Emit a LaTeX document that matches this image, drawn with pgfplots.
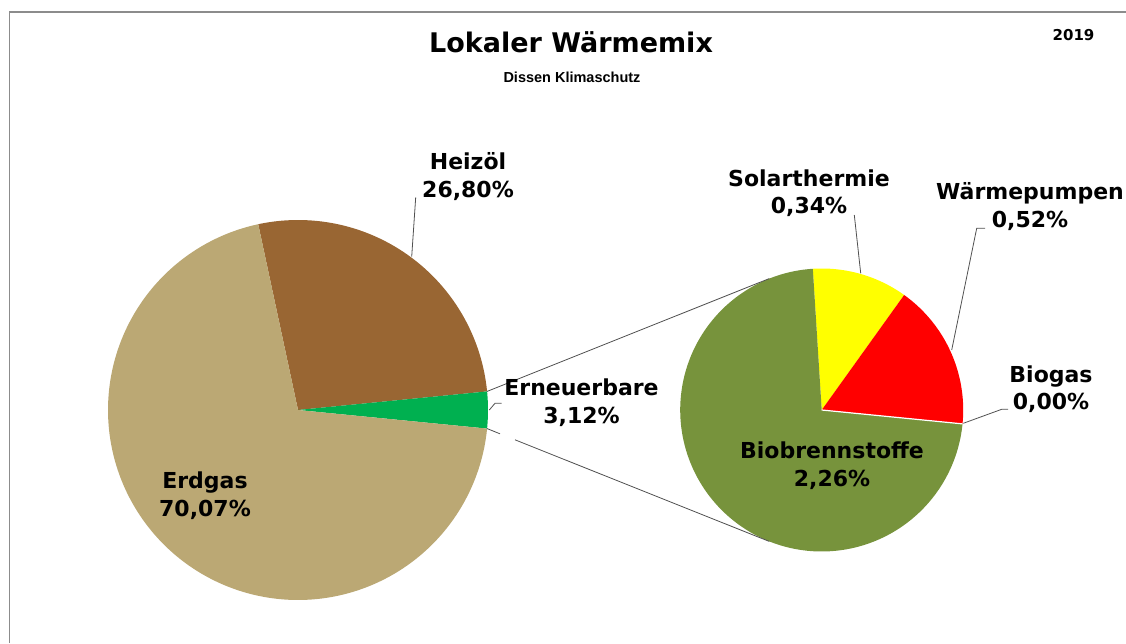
\documentclass[border=0pt]{standalone}
\usepackage{pgfplots}
\pgfplotsset{compat=1.18}
\usepackage{pgfplotstable}
\usepackage{fontspec}
\setmainfont{DejaVu Sans}
\newfontfamily\libsans{Liberation Sans}

\definecolor{erdgas}{RGB}{187,168,116}
\definecolor{heizoel}{RGB}{153,102,51}
\definecolor{erneu}{RGB}{0,176,80}
\definecolor{biobr}{RGB}{119,147,60}
\definecolor{solar}{RGB}{255,255,0}
\definecolor{wp}{RGB}{255,0,0}
\definecolor{leader}{RGB}{80,80,80}
\definecolor{framec}{RGB}{140,140,140}

\pgfplotstableread{
name value
Heizoel 26.80
Erneuerbare 3.12
Erdgas 70.07
}\maintab
\pgfplotstableread{
name value
Solarthermie 0.34
Waermepumpen 0.52
Biogas 0.00
Biobrennstoffe 2.26
}\subtab

\newcommand\lab{\fontsize{22}{27.8}\selectfont\bfseries}

\begin{document}%
\begin{tikzpicture}
\pgfplotstablegetelem{0}{value}\of\maintab \let\vHeiz\pgfplotsretval
\pgfplotstablegetelem{1}{value}\of\maintab \let\vErn\pgfplotsretval
\pgfplotstablegetelem{2}{value}\of\maintab \let\vErd\pgfplotsretval
\pgfplotstablegetelem{0}{value}\of\subtab \let\vSol\pgfplotsretval
\pgfplotstablegetelem{1}{value}\of\subtab \let\vWP\pgfplotsretval
\pgfplotstablegetelem{2}{value}\of\subtab \let\vBg\pgfplotsretval
\pgfplotstablegetelem{3}{value}\of\subtab \let\vBio\pgfplotsretval
% main pie angles (Erneuerbare centred on 0 deg)
\pgfmathsetmacro\aEa{-1.8*\vErn}
\pgfmathsetmacro\aEb{1.8*\vErn}
\pgfmathsetmacro\aHb{\aEb+3.6*\vHeiz}
\pgfmathsetmacro\aDb{\aEa+360}
% secondary pie angles
\pgfmathsetmacro\vSum{\vSol+\vWP+\vBg+\vBio}
\def\sStart{93.6}
\pgfmathsetmacro\sSol{\sStart-360*\vSol/\vSum}
\pgfmathsetmacro\sWP{\sSol-360*\vWP/\vSum}
\pgfmathsetmacro\sBg{\sWP-360*\vBg/\vSum}
\pgfmathsetmacro\sBio{\sBg-360*\vBio/\vSum}
\begin{axis}[hide axis, scale only axis, width=1126pt, height=643pt,
  xmin=0, xmax=1126, ymin=0, ymax=643, clip=false]
\coordinate (SW) at (axis cs:0,0);
\coordinate (NE) at (axis cs:1126,643);
% frame
\addplot[framec, line width=1.4pt] coordinates {(9.5,0) (9.5,631) (1126,631)};
% main pie
\addplot[fill=heizoel, draw=none, domain=\aEb:\aHb, samples=100, variable=\t]
  ({298+190*cos(\t)},{233+190*sin(\t)}) -- (axis cs:298,233) -- cycle;
\addplot[fill=erneu, draw=none, domain=\aEa:\aEb, samples=20, variable=\t]
  ({298+190*cos(\t)},{233+190*sin(\t)}) -- (axis cs:298,233) -- cycle;
\addplot[fill=erdgas, draw=none, domain=\aHb:\aDb, samples=200, variable=\t]
  ({298+190*cos(\t)},{233+190*sin(\t)}) -- (axis cs:298,233) -- cycle;
% secondary pie
\addplot[fill=solar, draw=none, domain=\sSol:\sStart, samples=50, variable=\t]
  ({821.7+141.5*cos(\t)},{233+141.5*sin(\t)}) -- (axis cs:821.7,233) -- cycle;
\addplot[fill=wp, draw=none, domain=\sWP:\sSol, samples=60, variable=\t]
  ({821.7+141.5*cos(\t)},{233+141.5*sin(\t)}) -- (axis cs:821.7,233) -- cycle;
\addplot[fill=biobr, draw=none, domain=\sBio:\sBg, samples=200, variable=\t]
  ({821.7+141.5*cos(\t)},{233+141.5*sin(\t)}) -- (axis cs:821.7,233) -- cycle;
% zero-width Biogas slice border
\addplot[white, line width=1.2pt, domain=0:141.5, samples=2]
  ({821.7+x*cos(\sBg)},{233+x*sin(\sBg)});
% connector lines
\addplot[leader, line width=0.8pt] coordinates {(487.1,251.6) (769.2,364.4)};
\addplot[leader, line width=0.8pt] coordinates {(487.1,214.4) (500,209.2)};
\addplot[leader, line width=0.8pt] coordinates {(515,203.2) (769.2,101.6)};
% leader lines
\addplot[leader, line width=0.8pt] coordinates {(411.7,386.3) (415.7,445.7)};
\addplot[leader, line width=0.8pt] coordinates {(489.3,233) (495,239.7) (501.7,239.7)};
\addplot[leader, line width=0.8pt] coordinates {(860.7,369.7) (854.3,428)};
\addplot[leader, line width=0.8pt] coordinates {(951.7,293) (976.7,414.7) (985,414.7)};
\addplot[leader, line width=0.8pt] coordinates {(963.3,219.7) (1001.7,233.7) (1008,233.7)};
% titles
\node[font=\fontsize{27}{32}\selectfont\bfseries] at (axis cs:571,600.3) {Lokaler Wärmemix};
\node[font=\libsans\fontsize{14.5}{17}\selectfont\bfseries] at (axis cs:572,565.3) {Dissen Klimaschutz};
\node[font=\fontsize{15}{18}\selectfont\bfseries] at (axis cs:1073.5,608) {2019};
% labels
\node[font=\lab, align=center] at (axis cs:468,466.3) {Heizöl\\26,80\%};
\node[font=\lab, align=center] at (axis cs:581.5,240.5) {Erneuerbare\\3,12\%};
\node[font=\lab, align=center] at (axis cs:205,147.5) {Erdgas\\70,07\%};
\node[font=\lab, align=center] at (axis cs:809,449.7) {Solarthermie\\0,34\%};
\node[font=\lab, align=center] at (axis cs:1030,436.3) {Wärmepumpen\\0,52\%};
\node[font=\lab, align=center] at (axis cs:1051,253.8) {Biogas\\0,00\%};
\node[font=\lab, align=center] at (axis cs:832,177) {Biobrennstoffe\\2,26\%};
\end{axis}
\pgfresetboundingbox
\path (SW) rectangle (NE);
\end{tikzpicture}%
\end{document}
